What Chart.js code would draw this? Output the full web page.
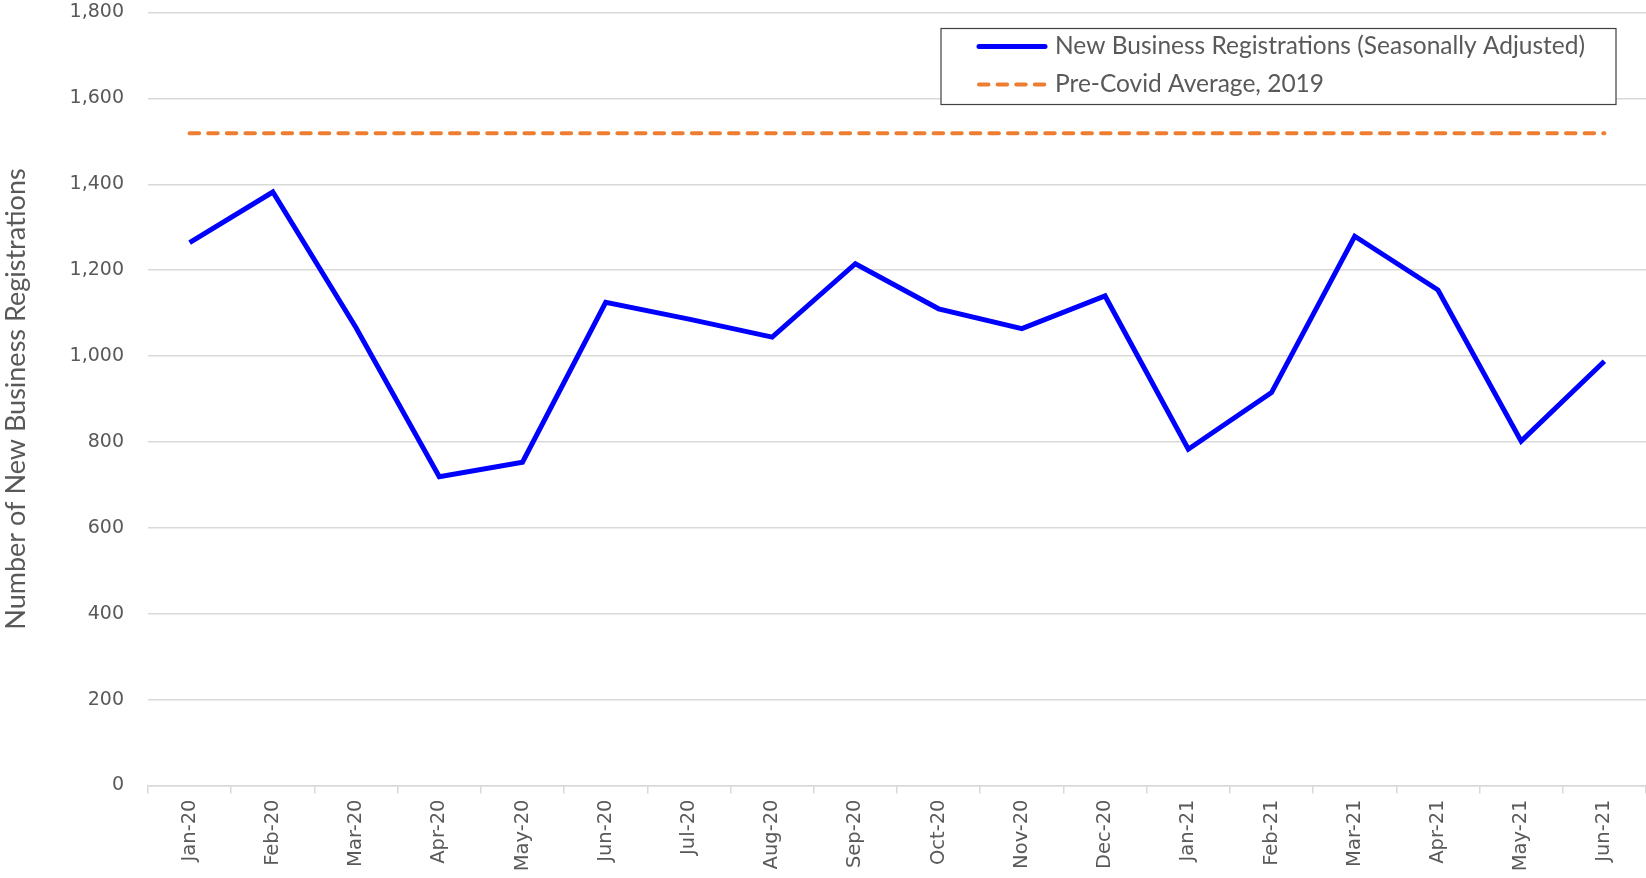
<!DOCTYPE html>
<html>
<head>
<meta charset="utf-8">
<script src="https://cdn.jsdelivr.net/npm/chart.js@4/dist/chart.umd.min.js"></script>
<style>
  html, body { margin: 0; padding: 0; background: #fff; }
  #chart { display: block; }
</style>
</head>
<body>
<canvas id="chart" width="1646" height="878"></canvas>
<script>
const months = ['Jan-20', 'Feb-20', 'Mar-20', 'Apr-20', 'May-20', 'Jun-20', 'Jul-20', 'Aug-20', 'Sep-20',
  'Oct-20', 'Nov-20', 'Dec-20', 'Jan-21', 'Feb-21', 'Mar-21', 'Apr-21', 'May-21', 'Jun-21'];
const registrations = [1264, 1382, 1066, 719, 753, 1125, 1086, 1044, 1215,
  1110, 1064, 1140, 783, 915, 1279, 1154, 802, 988];
const preCovidAverage = months.map(() => 1519);
const yMin = 0, yMax = 1800, yStep = 200;

const GREY_TEXT = '#595959';
const GRID = '#D9D9D9';

// boxed legend in the top right corner of the plot, Excel style
const boxLegend = {
  id: 'boxLegend',
  afterDraw(chart) {
    const { ctx, chartArea } = chart;
    const right = chartArea.right - 30, top = chartArea.top + 16;
    const w = 675, h = 76;
    const left = right - w;
    ctx.save();
    ctx.fillStyle = '#fff';
    ctx.fillRect(left, top, w, h);
    ctx.strokeStyle = '#404040';
    ctx.lineWidth = 1.2;
    ctx.strokeRect(left, top, w, h);

    ctx.font = '24.5px Lato';
    ctx.textBaseline = 'middle';
    ctx.textAlign = 'left';
    chart.data.datasets.forEach((ds, i) => {
      const y = top + 18 + i * 38;
      ctx.beginPath();
      ctx.setLineDash(ds.borderDash || []);
      ctx.lineCap = 'round';
      ctx.strokeStyle = ds.borderColor;
      ctx.lineWidth = ds.borderWidth;
      ctx.moveTo(left + 38, y);
      ctx.lineTo(left + 104, y);
      ctx.stroke();
      ctx.setLineDash([]);
      ctx.fillStyle = GREY_TEXT;
      ctx.fillText(ds.label, left + 114, y);
    });
    ctx.restore();
  }
};

new Chart(document.getElementById('chart'), {
  type: 'line',
  data: {
    labels: months,
    datasets: [
      {
        label: 'New Business Registrations (Seasonally Adjusted)',
        data: registrations,
        borderColor: '#0000FF',
        borderWidth: 5,
        pointRadius: 0,
        tension: 0,
        order: 0
      },
      {
        label: 'Pre-Covid Average, 2019',
        data: preCovidAverage,
        borderColor: '#ED7D31',
        borderWidth: 4,
        borderDash: [9.5, 9.1],
        borderCapStyle: 'round',
        pointRadius: 0,
        order: 1
      }
    ]
  },
  options: {
    responsive: false,
    animation: false,
    layout: { padding: 0 },
    plugins: {
      legend: { display: false },
      tooltip: { enabled: false }
    },
    scales: {
      x: {
        offset: true,
        grid: {
          offset: true,
          drawOnChartArea: false,
          drawTicks: true,
          tickLength: 8,
          color: GRID,
          lineWidth: 1.5
        },
        border: { display: true, color: GRID, width: 1.5 },
        ticks: {
          color: GREY_TEXT,
          font: { family: 'DejaVu Sans', size: 19.5 },
          minRotation: 90,
          maxRotation: 90,
          padding: 6,
          autoSkip: false
        },
        afterFit: scale => { scale.height = 92.5; }
      },
      y: {
        min: yMin,
        max: yMax,
        ticks: {
          stepSize: yStep,
          color: GREY_TEXT,
          font: { family: 'DejaVu Sans', size: 19 },
          padding: 24,
          callback: v => v.toLocaleString('en-US')
        },
        grid: { color: GRID, lineWidth: 1.5, drawTicks: false },
        border: { display: false },
        title: {
          display: true,
          text: 'Number of New Business Registrations',
          color: GREY_TEXT,
          font: { family: 'Lato', size: 27 },
          padding: { top: 0, bottom: 0 }
        },
        afterFit: scale => {
          scale.width = 148;
          scale.paddingTop = 12.5;
          scale.paddingBottom = 0;
        }
      }
    }
  },
  plugins: [boxLegend]
});
</script>
</body>
</html>
